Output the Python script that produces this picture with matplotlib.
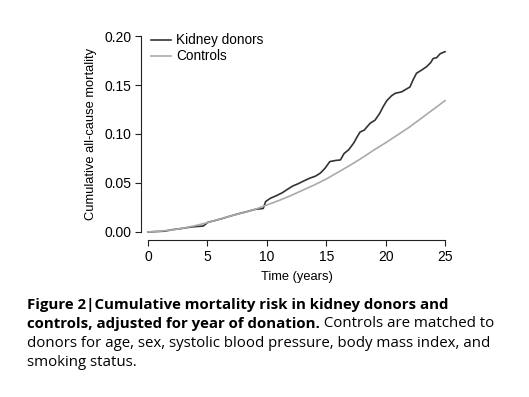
import matplotlib
matplotlib.use("Agg")
import matplotlib.pyplot as plt
import numpy as np

# Kaplan-Meier style cumulative mortality
donor_years = [0, 1.4, 2.1, 2.8, 3.5, 4.0, 4.65, 5.05, 5.6, 6.3, 7.0, 7.75, 8.4,
               9.0, 9.7, 9.9, 10.3, 10.8, 11.3, 11.8, 12.2, 12.6, 13.1, 13.6,
               14.1, 14.5, 14.9, 15.3, 15.8, 16.2, 16.5, 16.9, 17.3, 17.6, 17.85,
               18.2, 18.7, 19.1, 19.5, 19.8, 20.1, 20.5, 20.8, 21.35, 22.05,
               22.3, 22.6, 23.0, 23.45, 23.8, 24.0, 24.3, 24.6, 25.0]
donor_risk = [0, 0.0008, 0.0024, 0.0035, 0.0048, 0.0055, 0.006, 0.0099, 0.0115,
              0.0139, 0.0165, 0.019, 0.021, 0.023, 0.024, 0.031, 0.0344, 0.037,
              0.040, 0.044, 0.047, 0.049, 0.052, 0.0548, 0.057, 0.060, 0.065,
              0.0718, 0.073, 0.0735, 0.080, 0.084, 0.0905, 0.097, 0.102, 0.104,
              0.111, 0.114, 0.121, 0.128, 0.134, 0.139, 0.1415, 0.143, 0.148,
              0.155, 0.162, 0.165, 0.1687, 0.173, 0.177, 0.178, 0.182, 0.184]

control_years = list(range(0, 26))
control_risk = [0, 0.0008, 0.002, 0.004, 0.0065, 0.0095, 0.013, 0.0165, 0.0195,
                0.023, 0.0275, 0.032, 0.037, 0.0425, 0.048, 0.054, 0.061, 0.068,
                0.0755, 0.0835, 0.091, 0.099, 0.107, 0.116, 0.125, 0.134]

x_ticks = [0, 5, 10, 15, 20, 25]
y_ticks = [0.00, 0.05, 0.10, 0.15, 0.20]

plt.rcParams['font.family'] = ['Liberation Sans', 'DejaVu Sans']

fig = plt.figure(figsize=(5.29, 3.97), dpi=100)
ax = fig.add_axes([0.2665, 0.3955, 0.588, 0.534])

ax.plot(donor_years, donor_risk, color='#333333', lw=1.2, label='Kidney donors')
ax.plot(control_years, control_risk, color='#aaaaaa', lw=1.2, label='Controls')

ax.set_xlim(-0.59, 25.59)
ax.set_ylim(-0.0082, 0.2082)
ax.set_xticks(x_ticks)
ax.set_yticks(y_ticks)
ax.set_yticklabels([f"{v:.2f}" for v in y_ticks])
for s in ['top', 'right']:
    ax.spines[s].set_visible(False)
ax.spines['left'].set_bounds(0, 0.20)
ax.spines['bottom'].set_bounds(0, 25)
for s in ['left', 'bottom']:
    ax.spines[s].set_color('#222222')
    ax.spines[s].set_linewidth(0.8)
ax.tick_params(length=4, width=0.8, color='#222222', labelsize=10, pad=3)
ax.set_xlabel('Time (years)', fontsize=9.3, labelpad=5)
ax.set_ylabel('Cumulative all-cause mortality', fontsize=9.3, labelpad=5)

ax.legend(loc='upper left', bbox_to_anchor=(0.0, 1.02), frameon=False,
          fontsize=9.8, handlelength=1.5, handletextpad=0.4, labelspacing=0.15,
          borderaxespad=0.3)

# caption with mixed bold / regular text
cap = dict(fontsize=10.8, family=['Open Sans', 'DejaVu Sans'], va='baseline')
y0 = 397 - 309
dy = 19
fig.text(27 / 529, y0 / 397, 'Figure 2|Cumulative mortality risk in kidney donors and',
         fontweight='bold', **cap)
t2 = fig.text(27 / 529, (y0 - dy) / 397, 'controls, adjusted for year of donation.',
              fontweight='bold', **cap)
fig.text(27 / 529, (y0 - 2 * dy) / 397,
         'donors for age, sex, systolic blood pressure, body mass index, and', **cap)
fig.text(27 / 529, (y0 - 3 * dy) / 397, 'smoking status.', **cap)
cap['va'] = 'bottom'
ax.annotate(' Controls are matched to', xy=(1, 0), xycoords=t2,
            ha='left', annotation_clip=False, **cap)

fig.savefig('out.png', dpi=100)
